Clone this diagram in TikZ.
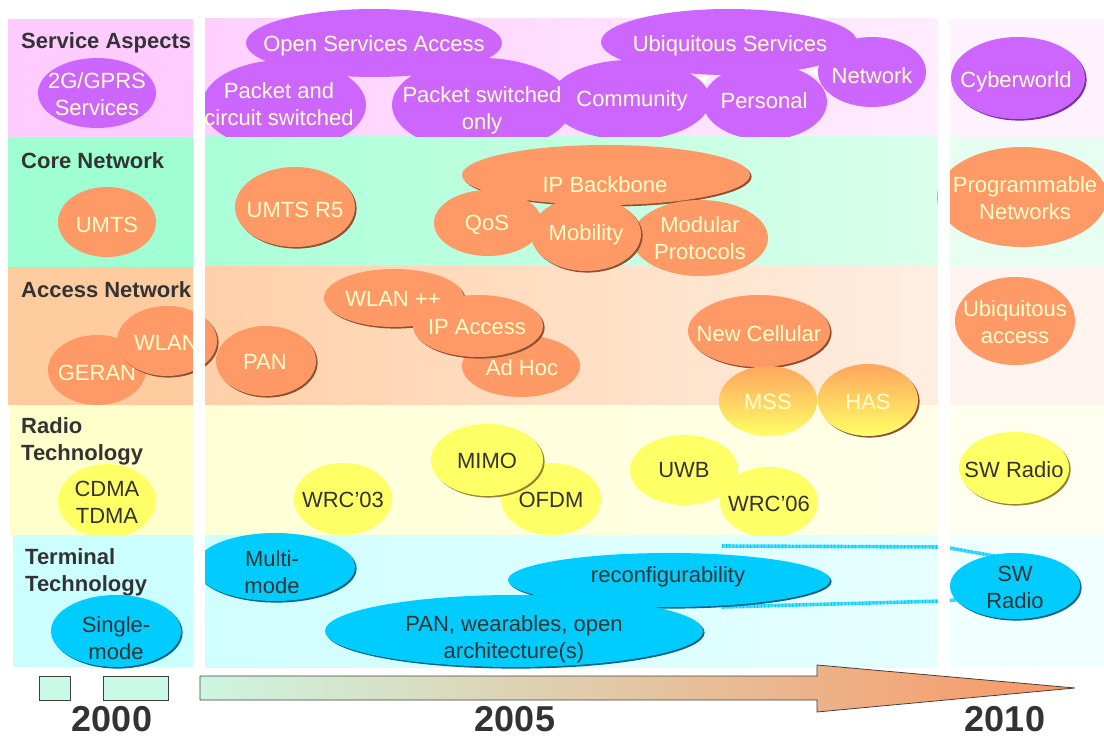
\documentclass[tikz,border=0pt]{standalone}
\usepackage{fontspec}
\setmainfont{Liberation Sans}
\usetikzlibrary{shapes.geometric,shadows}
\definecolor{purp}{RGB}{204,102,255}
\definecolor{purpD}{RGB}{120,50,160}
\definecolor{orng}{RGB}{255,153,102}
\definecolor{orngD}{RGB}{140,80,50}
\definecolor{orngG}{RGB}{255,165,95}
\definecolor{yell}{RGB}{255,255,102}
\definecolor{yellD}{RGB}{150,130,50}
\definecolor{cyn}{RGB}{0,204,255}
\definecolor{cynD}{RGB}{0,100,140}
\definecolor{ltxt}{RGB}{255,255,204}
\definecolor{dtxt}{RGB}{51,51,51}
\definecolor{svcL}{RGB}{255,204,255}
\definecolor{svcMa}{RGB}{255,208,255}
\definecolor{svcMb}{RGB}{255,236,255}
\definecolor{svcR}{RGB}{255,242,255}
\definecolor{corL}{RGB}{160,255,210}
\definecolor{corMa}{RGB}{170,255,215}
\definecolor{corMb}{RGB}{218,255,236}
\definecolor{corR}{RGB}{230,255,242}
\definecolor{accL}{RGB}{255,204,160}
\definecolor{accMa}{RGB}{255,208,168}
\definecolor{accMb}{RGB}{255,238,225}
\definecolor{accR}{RGB}{255,244,240}
\definecolor{radL}{RGB}{255,255,204}
\definecolor{radMa}{RGB}{255,255,214}
\definecolor{radMb}{RGB}{255,255,232}
\definecolor{radR}{RGB}{255,255,240}
\definecolor{terL}{RGB}{204,255,255}
\definecolor{terMa}{RGB}{208,255,255}
\definecolor{terMb}{RGB}{230,255,255}
\definecolor{terR}{RGB}{240,255,255}
\definecolor{arrL}{RGB}{205,245,225}
\definecolor{arrR}{RGB}{250,150,100}
\definecolor{lineD}{RGB}{64,64,64}
\definecolor{mint}{RGB}{200,250,230}
\tikzset{
  blobbase/.style={ellipse, inner sep=0pt, draw=none},
  txtbase/.style={font=\fontsize{22}{27}\selectfont, align=center, inner sep=0pt, yshift=-1.5pt},
  pB/.style={blobbase, fill=purp},  pT/.style={txtbase, text=ltxt},
  oB/.style={blobbase, fill=orng},  oT/.style={txtbase, text=ltxt},
  gB/.style={blobbase, top color=orngG, bottom color=yell}, gT/.style={txtbase, text=ltxt},
  yB/.style={blobbase, fill=yell},  yT/.style={txtbase, text=dtxt},
  cB/.style={blobbase, fill=cyn},   cT/.style={txtbase, text=dtxt},
  shd/.style={drop shadow={shadow xshift=1.6pt, shadow yshift=-1.6pt, opacity=1, fill=#1}},
  lab/.style={font=\bfseries\fontsize{22}{27}\selectfont, text=dtxt, anchor=west, align=left, inner sep=0pt, yshift=-2.5pt},
  yr/.style={font=\bfseries\fontsize{36}{40}\selectfont, text=dtxt, inner sep=0pt},
  tube/.style={draw=cyn, line width=3.6pt, dash pattern=on 0.9pt off 0.5pt},
  tlbox/.style={fill=mint, draw=lineD, line width=0.8pt}
}
\newcommand\blob[8][]{%
  \node[#2B,#1,minimum width=2*#5,minimum height=2*#6] (#3) at (#4) {};
  \node[#2T] (#3-t) at (#7) {#8};}
\begin{document}
\begin{tikzpicture}[x=1pt,y=-1pt]
\useasboundingbox (0,0) rectangle (1104,738);
% ---------- bands
\fill[svcL] (8,19) rectangle (193,137);
\shade[left color=svcMa, right color=svcMb] (205,19) rectangle (938,137);
\fill[svcR] (950,19) rectangle (1104,137);
\fill[corL] (8,137) rectangle (193,267);
\shade[left color=corMa, right color=corMb] (205,137) rectangle (938,267);
\fill[corR] (950,137) rectangle (1104,267);
\fill[accL] (8,267) rectangle (193,405);
\shade[left color=accMa, right color=accMb] (205,267) rectangle (938,405);
\fill[accR] (950,267) rectangle (1104,405);
\fill[radL] (10,405) rectangle (193,535);
\shade[left color=radMa, right color=radMb] (205,405) rectangle (938,535);
\fill[radR] (950,405) rectangle (1104,535);
\fill[terL] (13,535) rectangle (193,667);
\shade[left color=terMa, right color=terMb] (205,535) rectangle (938,667);
\fill[terR] (950,535) rectangle (1104,667);
% ---------- row labels
\node[lab] (l-svc) at (21,40) {Service Aspects};
\node[lab] (l-core) at (21,158) {Core Network};
\node[lab] (l-acc) at (21,287) {Access Network};
\node[lab] (l-rad) at (21,438.5) {Radio\\Technology};
\node[lab] (l-term) at (25,570) {Terminal\\Technology};
% ---------- service aspects
\begin{scope}
\clip (0,0) rectangle (1104,137);
\blob{p}{gprs}{97,93}{59}{35}{97,93}{2G/GPRS\\Services}
\blob{p}{osa}{374,43}{128}{34}{374,44}{Open Services Access}
\blob{p}{ubs}{729,42}{128}{33}{730,44}{Ubiquitous Services}
\blob{p}{pcs}{284,105}{82}{45}{279,103}{Packet and\\circuit switched}
\blob{p}{comm}{630,100}{80}{40}{632,99}{Community}
\blob{p}{pso}{482,105}{90}{47}{482,109}{Packet switched\\only}
\blob{p}{pers}{765,102}{62}{38}{764,99}{Personal}
\blob{p}{netw}{872,72}{54}{35}{872,74}{Network}
\blob[shd=purpD]{p}{cyber}{1018,78}{67}{41}{1016,80}{Cyberworld}
\fill[white] (698,77) -- (709,76) -- (705,84) -- cycle;
\fill[white] (810,72) -- (817,68) -- (817,77) -- cycle;
\end{scope}
% ---------- core network
\blob{o}{umts}{107,222}{49}{35}{107,223}{UMTS}
\blob[shd=orngD]{o}{umtsr5}{295,207}{60}{40}{295,208}{UMTS R5}
\blob[shd=orngD]{o}{ipb}{606,175}{144}{30}{605,183}{IP Backbone}
\blob{o}{qos}{488,223}{54}{33}{487,223}{QoS}
\blob{o}{modp}{700,238}{68}{38}{700,237}{Modular\\Protocols}
\blob[shd=orngD]{o}{mob}{586,234}{55}{37}{586,233}{Mobility}
\blob{o}{progn}{1022,197}{85}{50}{1025,197}{Programmable\\Networks}
% ---------- access network
\blob{o}{geran}{97,370}{49}{35}{97,371}{GERAN}
\blob[shd=orngD]{o}{wlan}{167,341}{50}{35}{166,341}{WLAN}
\blob[shd=orngD]{o}{pan}{266,361}{50}{35}{265,360}{PAN}
\blob[shd=orngD]{o}{wlanpp}{394,298}{70}{29}{393,297}{WLAN ++}
\blob{o}{adhoc}{521,366}{59}{31}{522,366}{Ad Hoc}
\blob[shd=orngD]{o}{ipacc}{478,326}{65}{31}{477,326}{IP Access}
\blob[shd=orngD]{o}{newcell}{759,331}{71}{36}{759,332}{New Cellular}
\blob{g}{mss}{768,401}{49}{35}{768,400}{MSS}
\blob[shd=orngD]{g}{has}{868,400}{50}{36}{868,400}{HAS}
\blob{o}{ubacc}{1015,321}{60}{44}{1015,321}{Ubiquitous\\access}
% ---------- radio technology
\begin{scope}
\clip (0,137) rectangle (1104,535);
\blob{y}{cdma}{107,501}{49}{37}{107,501}{CDMA\\TDMA}
\blob{y}{wrc3}{343,499}{49}{36}{343,498}{WRC’03}
\blob{y}{ofdm}{551,499}{50}{36}{551,498}{OFDM}
\blob[shd=yellD]{y}{mimo}{487,460}{56}{36}{487,459}{MIMO}
\blob{y}{uwb}{684,470}{54}{35}{684,469}{UWB}
\blob{y}{wrc6}{769,502}{49}{35}{769,502}{WRC’06}
\blob[shd=yellD]{y}{swr1}{1014,468}{55}{36}{1014,468}{SW Radio}
\end{scope}
% ---------- terminal technology
\coordinate (tA1) at (722,546);
\coordinate (tA2) at (944,547);
\coordinate (tA3) at (1000,557);
\coordinate (tB1) at (722,607);
\coordinate (tB2) at (944,601);
\coordinate (tB3) at (1000,596);
\draw[tube] (tA1) -- (tA2) -- (tA3);
\draw[tube] (tB1) -- (tB2) -- (tB3);
\blob[shd=cynD]{c}{multi}{275,567}{80}{34}{272,571}{Multi-\\mode}
\blob[shd=cynD]{c}{reconf}{669,580}{161}{27}{668,575}{reconfigurability}
\blob[shd=cynD]{c}{panw}{514,631}{189}{36}{514,638}{PAN, wearables, open\\architecture(s)}
\blob[shd=cynD]{c}{swr2}{1015,586}{65}{33}{1015,586}{SW\\Radio}
\blob[shd=cynD]{c}{single}{116,631}{65}{36}{116,637}{Single-\\mode}
% ---------- white gaps between columns
\fill[white] (193,0) rectangle (205,667);
\fill[white] (938,0) rectangle (950,667);
% ---------- time line
\draw[tlbox] (39,676) rectangle (70,700);
\draw[tlbox] (103,676) rectangle (168,700);
\shade[left color=arrL, right color=arrR, draw=lineD, line width=0.8pt]
  (200,676) -- (817,676) -- (817,665) -- (1075,688) -- (817,712) -- (817,700) -- (200,700) -- cycle;
\node[yr] (y2000) at (112,719) {2000};
\node[yr] (y2005) at (515,719) {2005};
\node[yr] (y2010) at (1005,719) {2010};
\end{tikzpicture}
\end{document}
